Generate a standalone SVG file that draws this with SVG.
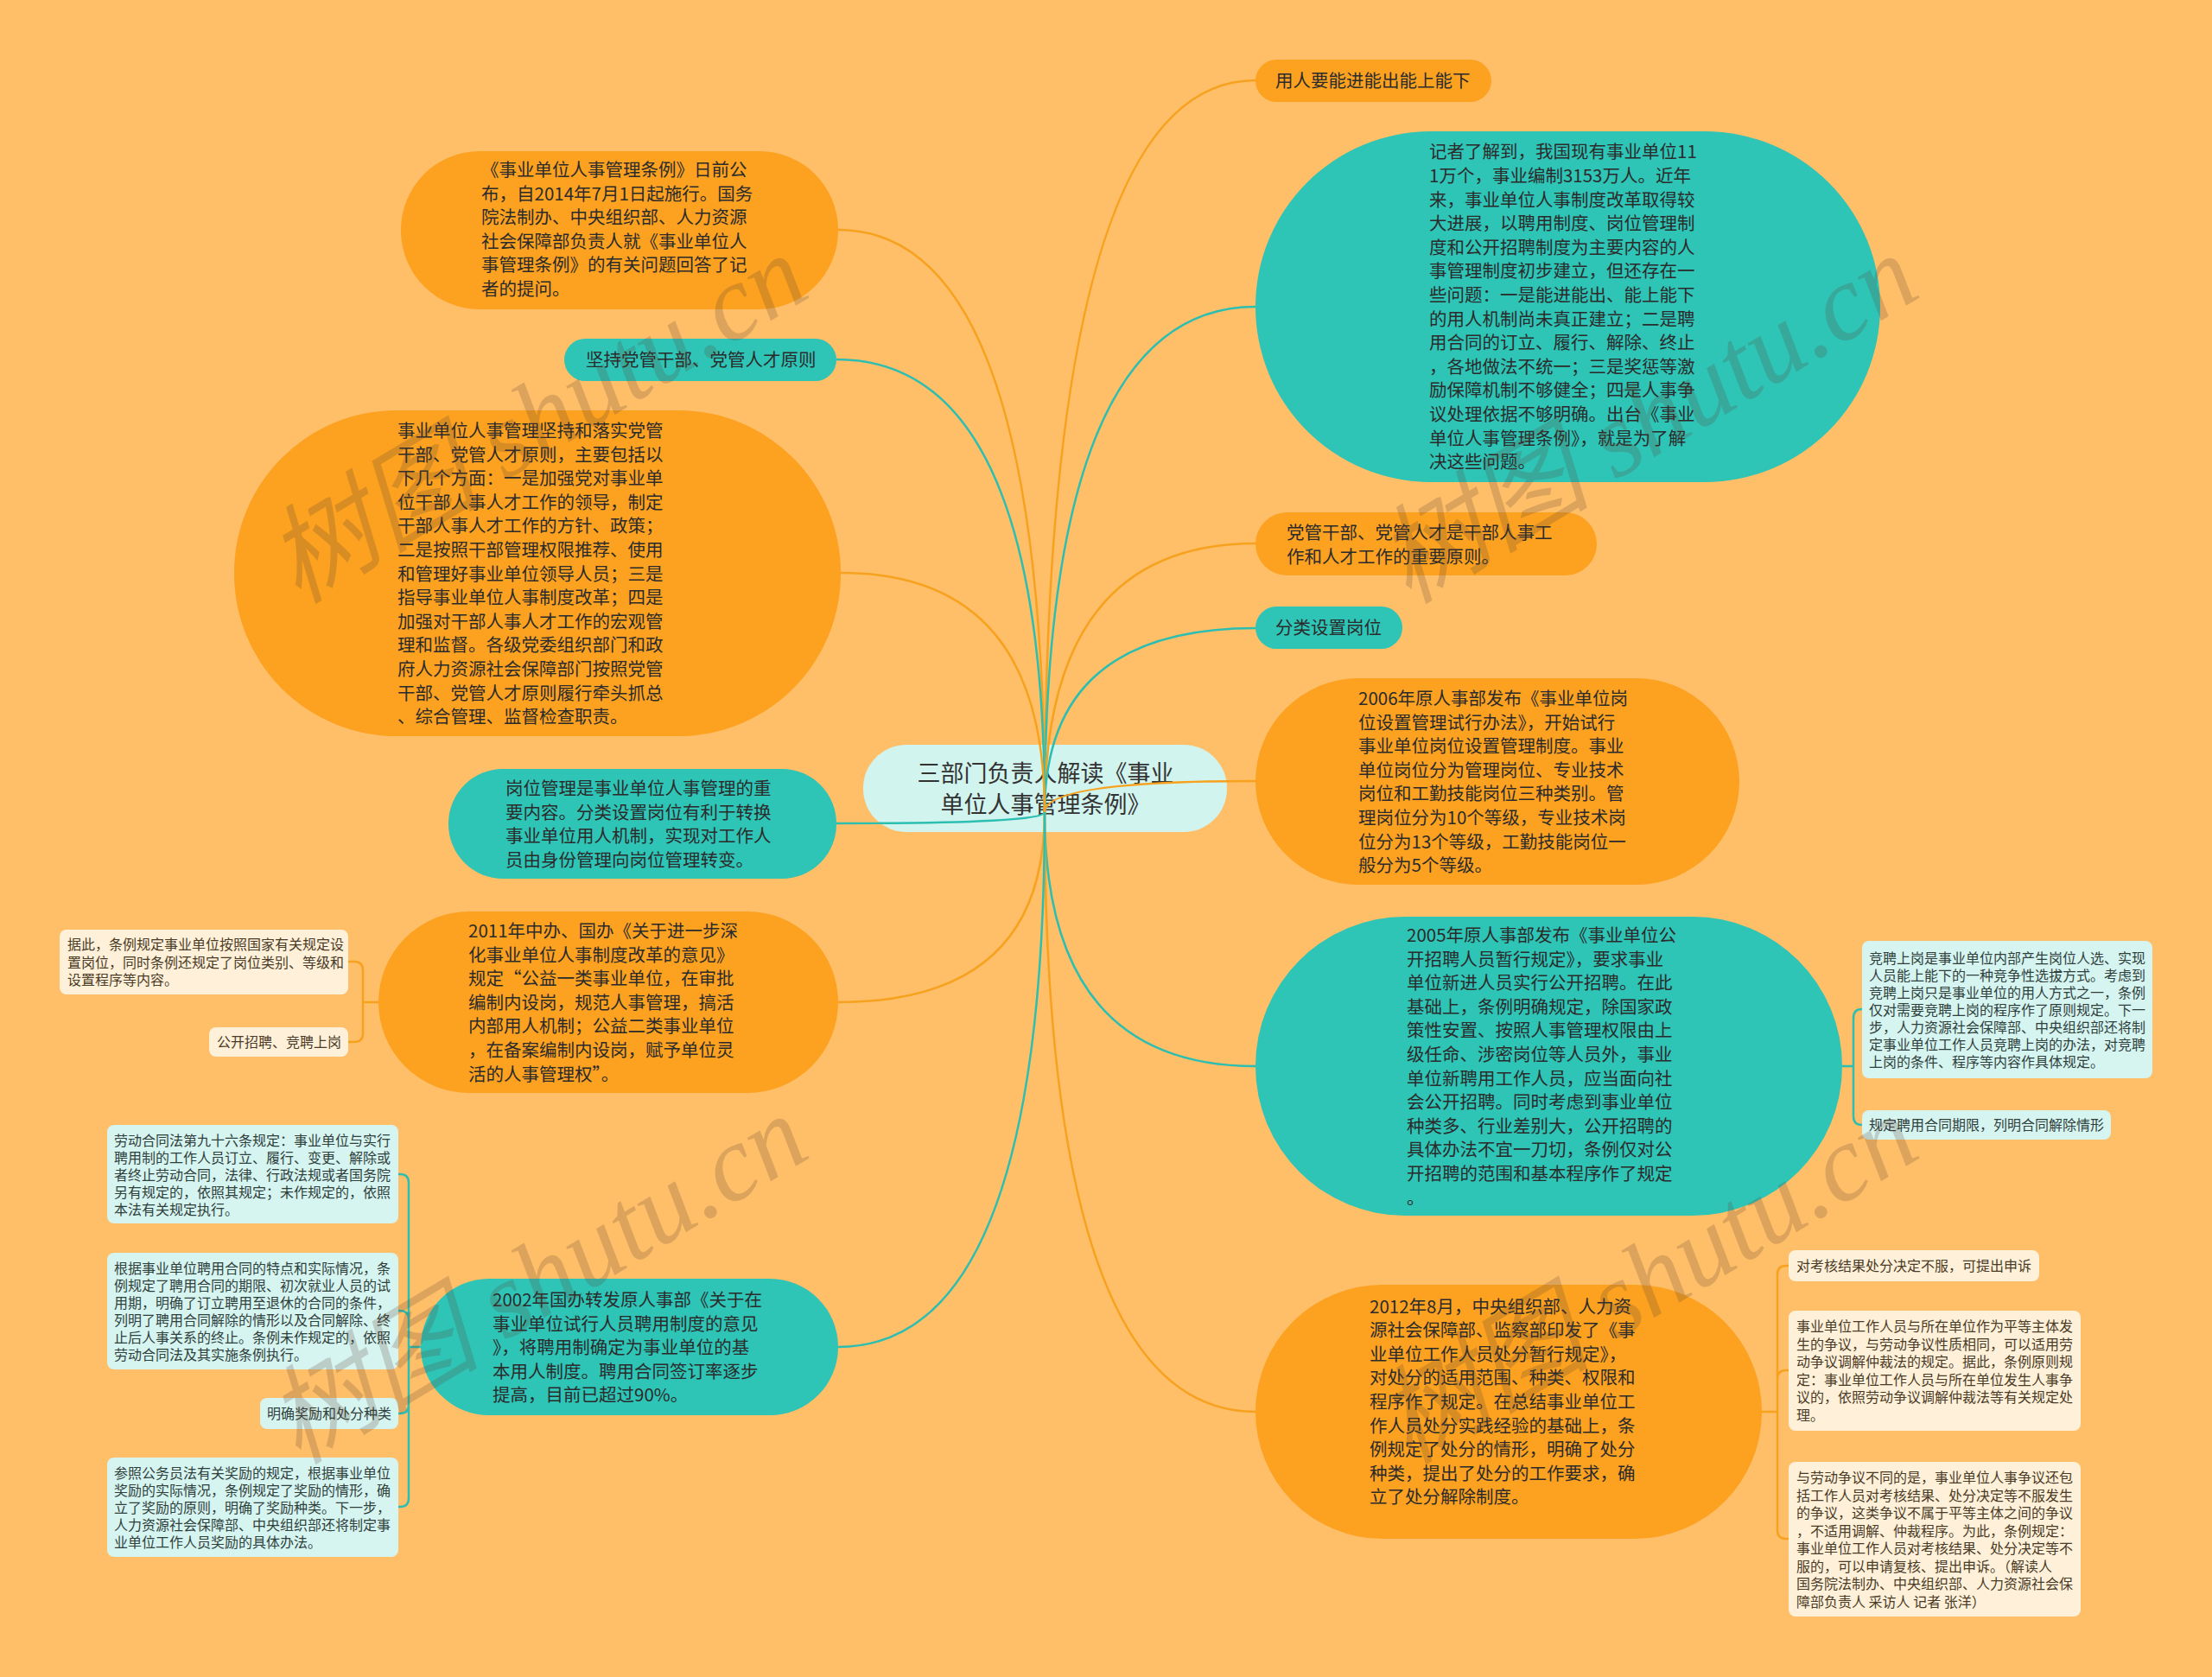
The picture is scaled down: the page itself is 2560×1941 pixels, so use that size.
<svg xmlns="http://www.w3.org/2000/svg" width="2560" height="1941" viewBox="0 0 2560 1941">
<style>
.bg{fill:#FFBE68}
.or{fill:#FCA120}
.te{fill:#2EC4B6}
.ce{fill:#D2F4EF}
.cr{fill:#FEF0D9}
.cy{fill:#D6F4F0}
.t{font-family:"Noto Sans CJK SC","Noto Sans",sans-serif;font-size:20.5px;fill:#2b2b2b}
.c{font-family:"Noto Sans CJK SC","Noto Sans",sans-serif;font-size:27px;fill:#333}
.s{font-family:"Noto Sans CJK SC","Noto Sans",sans-serif;font-size:16px;fill:#4a3b26}
.sc{font-family:"Noto Sans CJK SC","Noto Sans",sans-serif;font-size:16px;fill:#2f3f3c}
.lo{fill:none;stroke:#F7A21E;stroke-width:2.5}
.lt{fill:none;stroke:#2CBFB1;stroke-width:2.5}
.wm{font-family:"Liberation Serif","Noto Sans CJK SC",serif;font-size:124px;font-style:italic;fill:#5a4630;fill-opacity:0.22}
</style>
<rect class="bg" x="0" y="0" width="2560" height="1941"/>

<g id="center">
<rect class="ce" x="999" y="862" width="421" height="101" rx="50"/>
<text class="c" text-anchor="middle"><tspan x="1210" y="905">三部门负责人解读《事业</tspan><tspan x="1210" dy="36">单位人事管理条例》</tspan></text>
</g>

<g id="connectors">
<path class="lo" d="M1209 940 Q1209 93 1453 93"/>
<path class="lt" d="M1209 940 Q1209 355 1453 355"/>
<path class="lo" d="M1209 940 Q1209 629 1453 629"/>
<path class="lt" d="M1209 940 Q1209 727 1453 727"/>
<path class="lo" d="M1209 940 Q1209 904 1453 904"/>
<path class="lt" d="M1209 940 Q1209 1234 1453 1234"/>
<path class="lo" d="M1209 940 Q1209 1634 1453 1634"/>
<path class="lo" d="M1209 940 Q1209 266 970 266"/>
<path class="lt" d="M1209 940 Q1209 416 968 416"/>
<path class="lo" d="M1209 940 Q1209 663 973 663"/>
<path class="lt" d="M1209 940 Q1209 953 968 953"/>
<path class="lo" d="M1209 940 Q1209 1160 970 1160"/>
<path class="lt" d="M1209 940 Q1209 1559 970 1559"/>
<path class="lo" d="M438 1160 H420 M420 1160 V1123 Q420 1113 410 1113 H403 M420 1160 V1196 Q420 1206 410 1206 H403"/>
<path class="lt" d="M487 1559 H473 M473 1559 V1369 Q473 1359 463 1359 H461 M473 1559 V1527 Q473 1517 463 1517 H461 M473 1559 V1626 Q473 1636 463 1636 H461 M473 1559 V1734 Q473 1744 463 1744 H461"/>
<path class="lt" d="M2132 1234 H2145 M2145 1234 V1178 Q2145 1168 2155 1168 M2145 1234 V1292 Q2145 1302 2155 1302"/>
<path class="lo" d="M2039 1634 H2057 M2057 1634 V1475 Q2057 1465 2067 1465 H2070 M2057 1634 V1596 Q2057 1586 2067 1586 H2070 M2057 1634 V1771 Q2057 1781 2067 1781 H2070"/>
</g>

<g id="L1">
<rect class="or" x="464" y="175" width="506" height="183" rx="91"/>
<text class="t"><tspan x="557" y="204">《事业单位人事管理条例》日前公</tspan><tspan x="557" dy="27.6">布，自2014年7月1日起施行。国务</tspan><tspan x="557" dy="27.6">院法制办、中央组织部、人力资源</tspan><tspan x="557" dy="27.6">社会保障部负责人就《事业单位人</tspan><tspan x="557" dy="27.6">事管理条例》的有关问题回答了记</tspan><tspan x="557" dy="27.6">者的提问。</tspan></text>
</g>

<g id="L2">
<rect class="te" x="653" y="392" width="315" height="49" rx="24.5"/>
<text class="t" x="678" y="424">坚持党管干部、党管人才原则</text>
</g>

<g id="L3">
<rect class="or" x="271" y="475" width="702" height="377" rx="188"/>
<text class="t"><tspan x="460" y="506">事业单位人事管理坚持和落实党管</tspan><tspan x="460" dy="27.6">干部、党管人才原则，主要包括以</tspan><tspan x="460" dy="27.6">下几个方面：一是加强党对事业单</tspan><tspan x="460" dy="27.6">位干部人事人才工作的领导，制定</tspan><tspan x="460" dy="27.6">干部人事人才工作的方针、政策；</tspan><tspan x="460" dy="27.6">二是按照干部管理权限推荐、使用</tspan><tspan x="460" dy="27.6">和管理好事业单位领导人员；三是</tspan><tspan x="460" dy="27.6">指导事业单位人事制度改革；四是</tspan><tspan x="460" dy="27.6">加强对干部人事人才工作的宏观管</tspan><tspan x="460" dy="27.6">理和监督。各级党委组织部门和政</tspan><tspan x="460" dy="27.6">府人力资源社会保障部门按照党管</tspan><tspan x="460" dy="27.6">干部、党管人才原则履行牵头抓总</tspan><tspan x="460" dy="27.6">、综合管理、监督检查职责。</tspan></text>
</g>

<g id="L4">
<rect class="te" x="519" y="890" width="449" height="127" rx="63"/>
<text class="t"><tspan x="585" y="920">岗位管理是事业单位人事管理的重</tspan><tspan x="585" dy="27.6">要内容。分类设置岗位有利于转换</tspan><tspan x="585" dy="27.6">事业单位用人机制，实现对工作人</tspan><tspan x="585" dy="27.6">员由身份管理向岗位管理转变。</tspan></text>
</g>

<g id="L5">
<rect class="or" x="438" y="1055" width="532" height="210" rx="105"/>
<text class="t"><tspan x="542" y="1085">2011年中办、国办《关于进一步深</tspan><tspan x="542" dy="27.6">化事业单位人事制度改革的意见》</tspan><tspan x="542" dy="27.6">规定“公益一类事业单位，在审批</tspan><tspan x="542" dy="27.6">编制内设岗，规范人事管理，搞活</tspan><tspan x="542" dy="27.6">内部用人机制；公益二类事业单位</tspan><tspan x="542" dy="27.6">，在备案编制内设岗，赋予单位灵</tspan><tspan x="542" dy="27.6">活的人事管理权”。</tspan></text>
</g>

<g id="L5a">
<rect class="cr" x="69" y="1076" width="334" height="75" rx="8"/>
<text class="s"><tspan x="78" y="1099">据此，条例规定事业单位按照国家有关规定设</tspan><tspan x="78" dy="20.5">置岗位，同时条例还规定了岗位类别、等级和</tspan><tspan x="78" dy="20.5">设置程序等内容。</tspan></text>
</g>

<g id="L5b">
<rect class="cr" x="242" y="1189" width="161" height="34" rx="8"/>
<text class="s" x="251" y="1212">公开招聘、竞聘上岗</text>
</g>

<g id="L6">
<rect class="te" x="487" y="1480" width="483" height="158" rx="79"/>
<text class="t"><tspan x="570" y="1512">2002年国办转发原人事部《关于在</tspan><tspan x="570" dy="27.6">事业单位试行人员聘用制度的意见</tspan><tspan x="570" dy="27.6">》，将聘用制确定为事业单位的基</tspan><tspan x="570" dy="27.6">本用人制度。聘用合同签订率逐步</tspan><tspan x="570" dy="27.6">提高，目前已超过90%。</tspan></text>
</g>

<g id="L6a">
<rect class="cy" x="124" y="1302" width="337" height="114" rx="8"/>
<text class="sc"><tspan x="132" y="1326">劳动合同法第九十六条规定：事业单位与实行</tspan><tspan x="132" dy="20">聘用制的工作人员订立、履行、变更、解除或</tspan><tspan x="132" dy="20">者终止劳动合同，法律、行政法规或者国务院</tspan><tspan x="132" dy="20">另有规定的，依照其规定；未作规定的，依照</tspan><tspan x="132" dy="20">本法有关规定执行。</tspan></text>
</g>

<g id="L6b">
<rect class="cy" x="124" y="1450" width="337" height="135" rx="8"/>
<text class="sc"><tspan x="132" y="1473.5">根据事业单位聘用合同的特点和实际情况，条</tspan><tspan x="132" dy="20">例规定了聘用合同的期限、初次就业人员的试</tspan><tspan x="132" dy="20">用期，明确了订立聘用至退休的合同的条件，</tspan><tspan x="132" dy="20">列明了聘用合同解除的情形以及合同解除、终</tspan><tspan x="132" dy="20">止后人事关系的终止。条例未作规定的，依照</tspan><tspan x="132" dy="20">劳动合同法及其实施条例执行。</tspan></text>
</g>

<g id="L6c">
<rect class="cy" x="301" y="1618" width="160" height="36" rx="8"/>
<text class="sc" x="309" y="1642">明确奖励和处分种类</text>
</g>

<g id="L6d">
<rect class="cy" x="124" y="1687" width="337" height="115" rx="8"/>
<text class="sc"><tspan x="132" y="1710.5">参照公务员法有关奖励的规定，根据事业单位</tspan><tspan x="132" dy="20">奖励的实际情况，条例规定了奖励的情形，确</tspan><tspan x="132" dy="20">立了奖励的原则，明确了奖励种类。下一步，</tspan><tspan x="132" dy="20">人力资源社会保障部、中央组织部还将制定事</tspan><tspan x="132" dy="20">业单位工作人员奖励的具体办法。</tspan></text>
</g>

<g id="R1">
<rect class="or" x="1453" y="69" width="273" height="49" rx="24.5"/>
<text class="t" x="1476" y="101">用人要能进能出能上能下</text>
</g>

<g id="R2">
<rect class="te" x="1453" y="152" width="723" height="406" rx="203"/>
<text class="t"><tspan x="1654" y="183.4">记者了解到，我国现有事业单位11</tspan><tspan x="1654" dy="27.6">1万个，事业编制3153万人。近年</tspan><tspan x="1654" dy="27.6">来，事业单位人事制度改革取得较</tspan><tspan x="1654" dy="27.6">大进展，以聘用制度、岗位管理制</tspan><tspan x="1654" dy="27.6">度和公开招聘制度为主要内容的人</tspan><tspan x="1654" dy="27.6">事管理制度初步建立，但还存在一</tspan><tspan x="1654" dy="27.6">些问题：一是能进能出、能上能下</tspan><tspan x="1654" dy="27.6">的用人机制尚未真正建立；二是聘</tspan><tspan x="1654" dy="27.6">用合同的订立、履行、解除、终止</tspan><tspan x="1654" dy="27.6">，各地做法不统一；三是奖惩等激</tspan><tspan x="1654" dy="27.6">励保障机制不够健全；四是人事争</tspan><tspan x="1654" dy="27.6">议处理依据不够明确。出台《事业</tspan><tspan x="1654" dy="27.6">单位人事管理条例》，就是为了解</tspan><tspan x="1654" dy="27.6">决这些问题。</tspan></text>
</g>

<g id="R3">
<rect class="or" x="1453" y="593" width="395" height="73" rx="36.5"/>
<text class="t"><tspan x="1489" y="624">党管干部、党管人才是干部人事工</tspan><tspan x="1489" dy="27.6">作和人才工作的重要原则。</tspan></text>
</g>

<g id="R4">
<rect class="te" x="1453" y="702" width="170" height="49" rx="24.5"/>
<text class="t" x="1476" y="734">分类设置岗位</text>
</g>

<g id="R5">
<rect class="or" x="1453" y="785" width="560" height="239" rx="119.5"/>
<text class="t"><tspan x="1572" y="816">2006年原人事部发布《事业单位岗</tspan><tspan x="1572" dy="27.6">位设置管理试行办法》，开始试行</tspan><tspan x="1572" dy="27.6">事业单位岗位设置管理制度。事业</tspan><tspan x="1572" dy="27.6">单位岗位分为管理岗位、专业技术</tspan><tspan x="1572" dy="27.6">岗位和工勤技能岗位三种类别。管</tspan><tspan x="1572" dy="27.6">理岗位分为10个等级，专业技术岗</tspan><tspan x="1572" dy="27.6">位分为13个等级，工勤技能岗位一</tspan><tspan x="1572" dy="27.6">般分为5个等级。</tspan></text>
</g>

<g id="R6">
<rect class="te" x="1453" y="1061" width="679" height="346" rx="173"/>
<text class="t"><tspan x="1628" y="1090">2005年原人事部发布《事业单位公</tspan><tspan x="1628" dy="27.6">开招聘人员暂行规定》，要求事业</tspan><tspan x="1628" dy="27.6">单位新进人员实行公开招聘。在此</tspan><tspan x="1628" dy="27.6">基础上，条例明确规定，除国家政</tspan><tspan x="1628" dy="27.6">策性安置、按照人事管理权限由上</tspan><tspan x="1628" dy="27.6">级任命、涉密岗位等人员外，事业</tspan><tspan x="1628" dy="27.6">单位新聘用工作人员，应当面向社</tspan><tspan x="1628" dy="27.6">会公开招聘。同时考虑到事业单位</tspan><tspan x="1628" dy="27.6">种类多、行业差别大，公开招聘的</tspan><tspan x="1628" dy="27.6">具体办法不宜一刀切，条例仅对公</tspan><tspan x="1628" dy="27.6">开招聘的范围和基本程序作了规定</tspan><tspan x="1628" dy="27.6">。</tspan></text>
</g>

<g id="R6a">
<rect class="cy" x="2155" y="1089" width="336" height="159" rx="8"/>
<text class="sc"><tspan x="2163" y="1114.5">竞聘上岗是事业单位内部产生岗位人选、实现</tspan><tspan x="2163" dy="20">人员能上能下的一种竞争性选拔方式。考虑到</tspan><tspan x="2163" dy="20">竞聘上岗只是事业单位的用人方式之一，条例</tspan><tspan x="2163" dy="20">仅对需要竞聘上岗的程序作了原则规定。下一</tspan><tspan x="2163" dy="20">步，人力资源社会保障部、中央组织部还将制</tspan><tspan x="2163" dy="20">定事业单位工作人员竞聘上岗的办法，对竞聘</tspan><tspan x="2163" dy="20">上岗的条件、程序等内容作具体规定。</tspan></text>
</g>

<g id="R6b">
<rect class="cy" x="2155" y="1285" width="288" height="34" rx="8"/>
<text class="sc" x="2163" y="1308">规定聘用合同期限，列明合同解除情形</text>
</g>

<g id="R7">
<rect class="or" x="1453" y="1487" width="586" height="294" rx="147"/>
<text class="t"><tspan x="1585" y="1519.5">2012年8月，中央组织部、人力资</tspan><tspan x="1585" dy="27.6">源社会保障部、监察部印发了《事</tspan><tspan x="1585" dy="27.6">业单位工作人员处分暂行规定》，</tspan><tspan x="1585" dy="27.6">对处分的适用范围、种类、权限和</tspan><tspan x="1585" dy="27.6">程序作了规定。在总结事业单位工</tspan><tspan x="1585" dy="27.6">作人员处分实践经验的基础上，条</tspan><tspan x="1585" dy="27.6">例规定了处分的情形，明确了处分</tspan><tspan x="1585" dy="27.6">种类，提出了处分的工作要求，确</tspan><tspan x="1585" dy="27.6">立了处分解除制度。</tspan></text>
</g>

<g id="R7a">
<rect class="cr" x="2070" y="1447" width="290" height="36" rx="8"/>
<text class="s" x="2079" y="1471">对考核结果处分决定不服，可提出申诉</text>
</g>

<g id="R7b">
<rect class="cr" x="2070" y="1517" width="338" height="139" rx="8"/>
<text class="s"><tspan x="2079" y="1541">事业单位工作人员与所在单位作为平等主体发</tspan><tspan x="2079" dy="20.5">生的争议，与劳动争议性质相同，可以适用劳</tspan><tspan x="2079" dy="20.5">动争议调解仲裁法的规定。据此，条例原则规</tspan><tspan x="2079" dy="20.5">定：事业单位工作人员与所在单位发生人事争</tspan><tspan x="2079" dy="20.5">议的，依照劳动争议调解仲裁法等有关规定处</tspan><tspan x="2079" dy="20.5">理。</tspan></text>
</g>

<g id="R7c">
<rect class="cr" x="2070" y="1692" width="338" height="179" rx="8"/>
<text class="s"><tspan x="2079" y="1716">与劳动争议不同的是，事业单位人事争议还包</tspan><tspan x="2079" dy="20.5">括工作人员对考核结果、处分决定等不服发生</tspan><tspan x="2079" dy="20.5">的争议，这类争议不属于平等主体之间的争议</tspan><tspan x="2079" dy="20.5">，不适用调解、仲裁程序。为此，条例规定：</tspan><tspan x="2079" dy="20.5">事业单位工作人员对考核结果、处分决定等不</tspan><tspan x="2079" dy="20.5">服的，可以申请复核、提出申诉。（解读人</tspan><tspan x="2079" dy="20.5">国务院法制办、中央组织部、人力资源社会保</tspan><tspan x="2079" dy="20.5">障部负责人 采访人 记者 张洋）</tspan></text>
</g>

<g id="watermarks">
<text class="wm" x="345" y="700" transform="rotate(-31 345 700)">树图 shutu.cn</text>
<text class="wm" x="1630" y="700" transform="rotate(-31 1630 700)">树图 shutu.cn</text>
<text class="wm" x="345" y="1696" transform="rotate(-31 345 1696)">树图 shutu.cn</text>
<text class="wm" x="1630" y="1696" transform="rotate(-31 1630 1696)">树图 shutu.cn</text>
</g>
</svg>
